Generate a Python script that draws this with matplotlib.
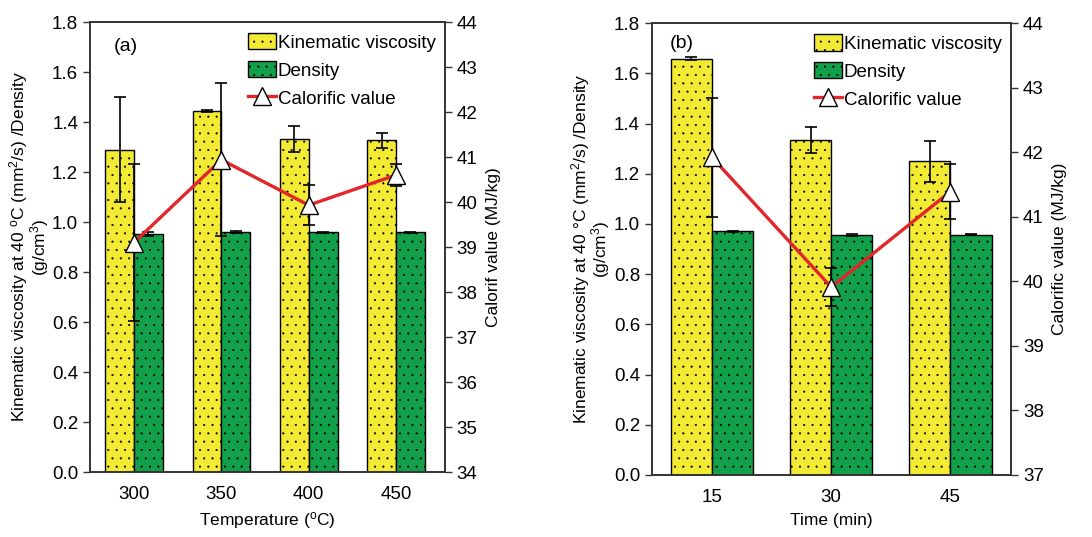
import matplotlib
matplotlib.use("Agg")
import matplotlib.pyplot as plt
from matplotlib.lines import Line2D
from matplotlib.patches import Patch
import numpy as np

plt.rcParams['font.family'] = ['Liberation Sans', 'DejaVu Sans']
plt.rcParams['mathtext.fontset'] = 'custom'
plt.rcParams['mathtext.rm'] = 'Liberation Sans'
plt.rcParams['mathtext.it'] = 'Liberation Sans:italic'
plt.rcParams['hatch.linewidth'] = 0.3

# ---- Panel (a): temperature ----
temp_labels = ['300', '350', '400', '450']
kv_a = [1.29, 1.444, 1.333, 1.327]
kv_a_err = [0.21, 0.004, 0.053, 0.03]
den_a = [0.951, 0.960, 0.959, 0.959]
den_a_err = [0.008, 0.004, 0.003, 0.003]
cv_a = [39.1, 40.94, 39.93, 40.6]
cv_a_err = [1.74, 1.7, 0.45, 0.24]

# ---- Panel (b): time ----
time_labels = ['15', '30', '45']
kv_b = [1.657, 1.335, 1.249]
kv_b_err = [0.006, 0.053, 0.083]
den_b = [0.970, 0.956, 0.956]
den_b_err = [0.003, 0.003, 0.002]
cv_b = [41.92, 39.91, 41.39]
cv_b_err = [0.92, 0.3, 0.42]

YELLOW = '#F3EA34'
GREEN = '#13A04B'
RED = '#E2262B'
SPINE = '#333333'

TICK_FS = 13.5
LAB_FS = 12.5
LEG_FS = 13.5

fig = plt.figure(figsize=(10.92, 5.37), dpi=100)


def panel(rect, cats, kv, kve, den, dene, cv, cve, xlim, width, cvlim, cvticks,
          tag, tagpos, xlabel, ylabel, rlabel):
    ax = fig.add_axes(rect)
    x = np.arange(len(cats))
    ax.bar(x - width / 2, kv, width, color=YELLOW, edgecolor='black', linewidth=1.0,
           hatch='..', zorder=2)
    ax.bar(x + width / 2, den, width, color=GREEN, edgecolor='black', linewidth=1.0,
           hatch='..', zorder=2)
    ax.errorbar(x - width / 2, kv, yerr=kve, fmt='none', ecolor='black', elinewidth=1.2,
                capsize=4, capthick=1.2, zorder=3)
    ax.errorbar(x + width / 2, den, yerr=dene, fmt='none', ecolor='black', elinewidth=1.2,
                capsize=4, capthick=1.2, zorder=3)
    ax.set_xlim(*xlim)
    ax.set_ylim(0, 1.8)
    ax.set_yticks(np.arange(0, 1.81, 0.2))
    ax.set_yticklabels([f'{v:.1f}' for v in np.arange(0, 1.81, 0.2)])
    ax.set_xticks(x)
    ax.set_xticklabels(cats)
    ax.tick_params(axis='x', length=0, labelsize=TICK_FS, pad=10)
    ax.tick_params(axis='y', direction='out', length=5, width=1.0, labelsize=TICK_FS,
                   color=SPINE)
    ax.set_xlabel(xlabel, fontsize=LAB_FS, labelpad=5)
    ax.set_ylabel(ylabel, fontsize=LAB_FS, labelpad=1, linespacing=0.85)
    for s in ax.spines.values():
        s.set_color(SPINE)
        s.set_linewidth(1.2)

    ax2 = ax.twinx()
    ax2.set_ylim(*cvlim)
    ax2.set_yticks(cvticks)
    ax2.errorbar(x, cv, yerr=cve, fmt='none', ecolor='black', elinewidth=1.2,
                 capsize=4, capthick=1.2, zorder=3)
    ax2.plot(x, cv, color=RED, linewidth=2.4, zorder=4)
    ax2.plot(x, cv, linestyle='none', marker='^', markersize=13, markerfacecolor='white',
             markeredgecolor='black', markeredgewidth=1.0, zorder=5)
    ax2.tick_params(axis='y', direction='out', length=5, width=1.0, labelsize=TICK_FS,
                    color=SPINE)
    ax2.set_ylabel(rlabel, fontsize=LAB_FS, labelpad=6)
    for s in ax2.spines.values():
        s.set_color(SPINE)
        s.set_linewidth(1.2)
    ax2.set_xlim(*xlim)

    ax.text(tagpos[0], tagpos[1], tag, transform=ax.transAxes, fontsize=14,
            ha='left', va='center')

    handles = [
        Patch(facecolor=YELLOW, edgecolor='black', hatch='..', linewidth=1.0),
        Patch(facecolor=GREEN, edgecolor='black', hatch='..', linewidth=1.0),
        Line2D([0], [0], color=RED, linewidth=2.4, marker='^', markersize=13,
               markerfacecolor='white', markeredgecolor='black', markeredgewidth=1.0),
    ]
    ax2.legend(handles, ['Kinematic viscosity', 'Density', 'Calorific value'],
               loc='upper right', bbox_to_anchor=(1.005, 1.0), frameon=False,
               fontsize=LEG_FS, handlelength=1.5, handleheight=0.95,
               handletextpad=0.1, labelspacing=0.5, borderaxespad=0.2)
    return ax, ax2


panel([0.0824, 0.121, 0.3251, 0.838], temp_labels, kv_a, kv_a_err, den_a, den_a_err,
      cv_a, cv_a_err, (-0.504, 3.56), 0.33, (34, 44), np.arange(34, 45, 1),
      '(a)', (0.068, 0.945), 'Temperature ($^{\\mathrm{o}}$C)',
      'Kinematic viscosity at 40 $^{\\mathrm{o}}$C (mm$^2$/s) /Density\n(g/cm$^3$)',
      'Calorif value (MJ/kg)')

panel([0.597, 0.1155, 0.329, 0.8415], time_labels, kv_b, kv_b_err, den_b, den_b_err,
      cv_b, cv_b_err, (-0.504, 2.51), 0.345, (37, 44), np.arange(37, 45, 1),
      '(b)', (0.05, 0.955), 'Time (min)',
      'Kinematic viscosity at 40 °C (mm$^2$/s) /Density\n(g/cm$^3$)',
      'Calorific value (MJ/kg)')

fig.savefig('out.png', dpi=100)
